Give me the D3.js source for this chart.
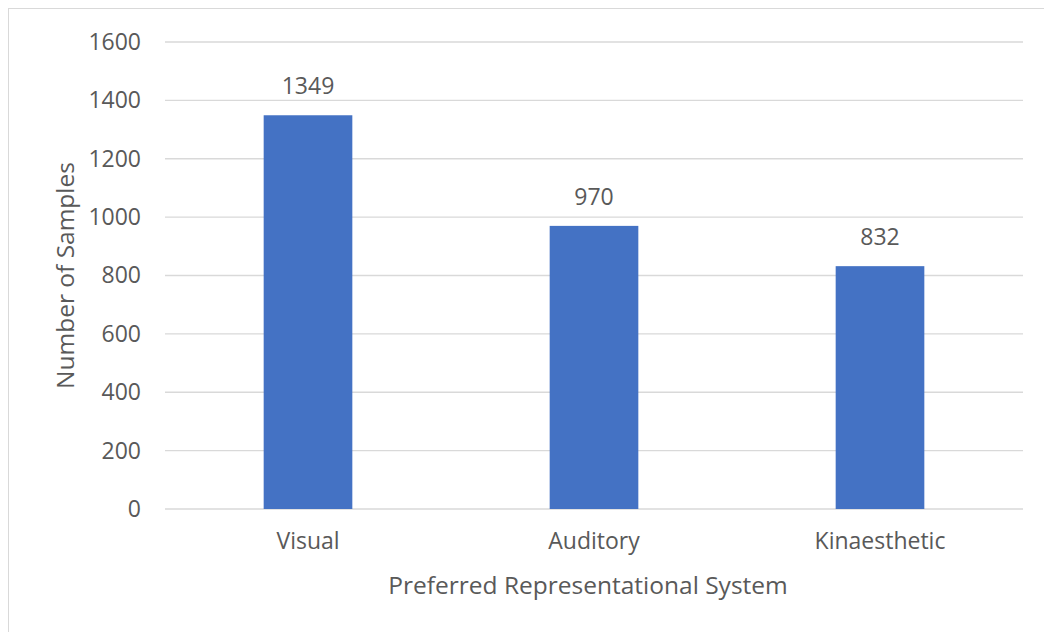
<!DOCTYPE html>
<html><head><meta charset="utf-8">
<script src="https://cdn.jsdelivr.net/npm/d3@7"></script>
<style>body{margin:0;background:#fff}svg{display:block}text{font-family:"Open Sans","Noto Sans",sans-serif;fill:#595959}</style>
</head><body>
<svg id="c" width="1044" height="632"></svg>
<script>
const categories = ["Visual", "Auditory", "Kinaesthetic"];
const values = [1349, 970, 832];
const yTicks = [0, 200, 400, 600, 800, 1000, 1200, 1400, 1600];
const xTitle = "Preferred Representational System";
const yTitle = "Number of Samples";

const svg = d3.select("#c");
svg.append("rect").attr("x", 8.5).attr("y", 8.5).attr("width", 1044).attr("height", 640)
  .attr("fill", "#fff").attr("stroke", "#d9d9d9");

const m = {l:165, r:1023, t:42, b:509};
const x = d3.scaleBand().domain(categories).range([m.l, m.r]).paddingInner(0.69).paddingOuter(0.345);
const y = d3.scaleLinear().domain([0, 1600]).range([m.b, m.t]);

svg.append("g").selectAll("line").data(yTicks).join("line")
  .attr("x1", m.l).attr("x2", m.r).attr("y1", d=>y(d)).attr("y2", d=>y(d))
  .attr("stroke", "#d9d9d9").attr("stroke-width", 1.3);

const yAxis = svg.append("g").attr("transform", `translate(${m.l},0)`)
  .call(d3.axisLeft(y).tickValues(yTicks).tickFormat(d3.format("d")).tickSize(0).tickPadding(24));
yAxis.select(".domain").remove();
yAxis.selectAll("text").style("font-size","23px").attr("fill","#595959");

svg.selectAll("rect.bar").data(values).join("rect").attr("class","bar")
  .attr("x", (d,i)=>x(categories[i])).attr("width", x.bandwidth())
  .attr("y", d=>y(d)).attr("height", d=>y(0)-y(d)).attr("fill", "#4472c4");

svg.selectAll("text.lbl").data(values).join("text").attr("class","lbl")
  .attr("x", (d,i)=>x(categories[i]) + x.bandwidth()/2).attr("y", d=>y(d)-21)
  .attr("text-anchor","middle").style("font-size","23px").text(d=>d);

const xAxis = svg.append("g").attr("transform", `translate(0,${m.b})`)
  .call(d3.axisBottom(x).tickSize(0).tickPadding(24));
xAxis.select(".domain").remove();
xAxis.selectAll("text").style("font-size","23px").attr("fill","#595959");

svg.append("text").attr("x", 588).attr("y", 594).attr("text-anchor","middle")
  .style("font-size","24.5px").text(xTitle);
svg.append("text").attr("transform", `translate(74,${(m.t+m.b)/2}) rotate(-90)`).attr("text-anchor","middle")
  .style("font-size","24.5px").text(yTitle);
</script>
</body></html>
